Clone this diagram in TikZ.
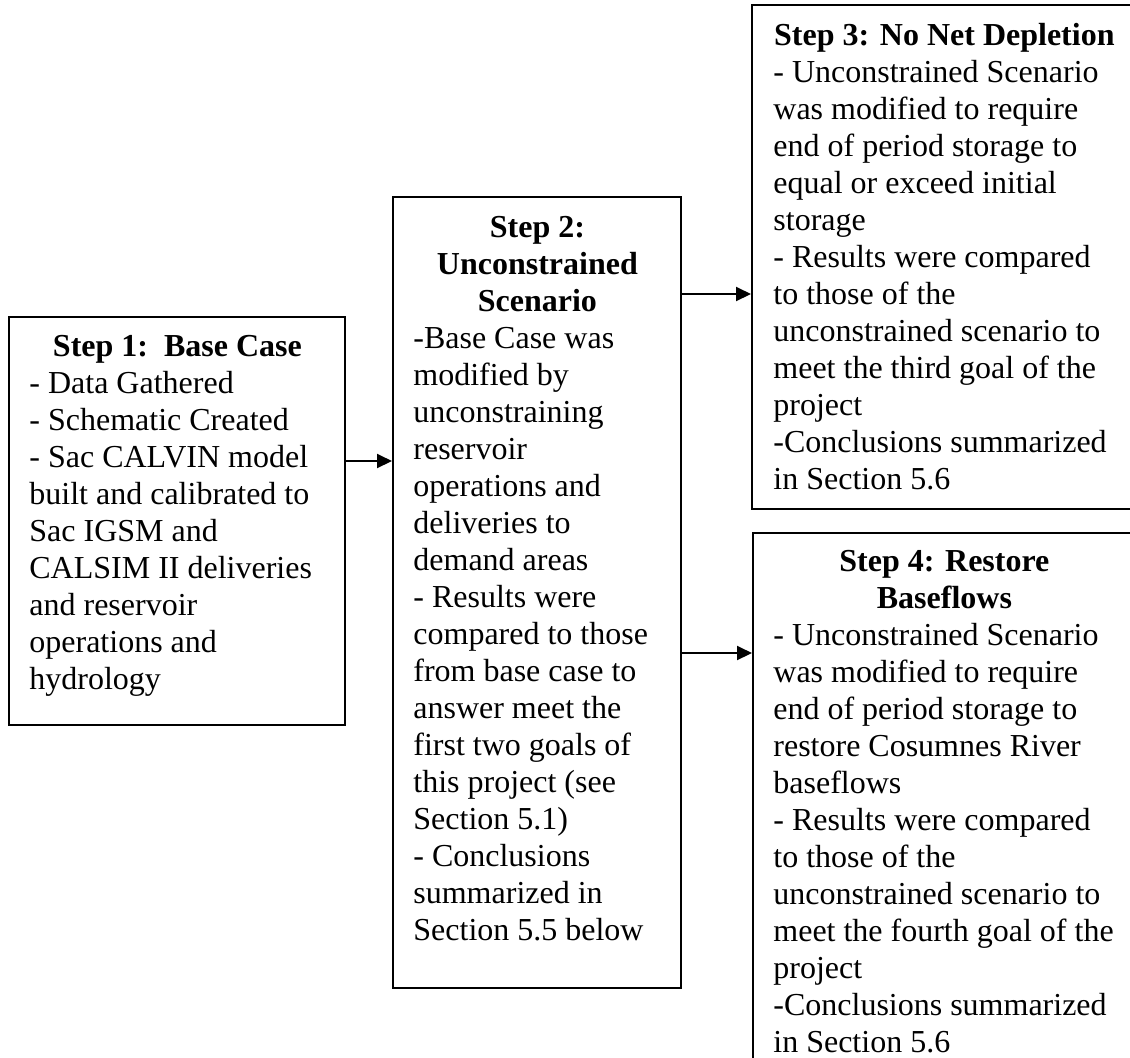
\documentclass[tikz,border=0pt]{standalone}
\usepackage{fontspec}
\setmainfont{Liberation Serif}
\usetikzlibrary{arrows.meta,fit}
\newcommand{\steptitle}[2]{\makebox[#1]{\bfseries #2}}
\begin{document}
        \begin{tikzpicture}[x=0.5pt, y=-0.5pt,
            box/.style={draw, line width=1pt, inner sep=0pt},
            txt/.style={anchor=north west, inner sep=0pt, align=left,
                font=\fontsize{16}{18.5}\selectfont},
            arr/.style={line width=1pt, -{Triangle[length=7.5pt,width=7pt]}}]
            \useasboundingbox (0,0) rectangle (1130,1057);
            \clip (0,0) rectangle (1130,1057);
            % Kaesten
            \node [box, fit={(9,317) (345,725)}]    (s1) {};
            \node [box, fit={(393,197) (681,988)}]  (s2) {};
            \node [box, fit={(752,5) (1150,509)}]   (s3) {};
            \node [box, fit={(753,533) (1150,1090)}] (s4) {};
            % Texte
            \node [txt] (t1) at (29,335) {\steptitle{148pt}{Step 1:\ \ Base Case}\\
                - Data Gathered\\
                - Schematic Created\\
                - Sac CALVIN model\\
                built and calibrated to\\
                Sac IGSM and\\
                CALSIM II deliveries\\
                and reservoir\\
                operations and\\
                hydrology};
            \node [txt] (t2) at (413,216) {\steptitle{124pt}{Step 2:}\\
                \steptitle{124pt}{Unconstrained}\\
                \steptitle{124pt}{Scenario}\\
                -Base Case was\\
                modified by\\
                unconstraining\\
                reservoir\\
                operations and\\
                deliveries to\\
                demand areas\\
                - Results were\\
                compared to those\\
                from base case to\\
                answer meet the\\
                first two goals of\\
                this project (see\\
                Section 5.1)\\
                - Conclusions\\
                summarized in\\
                Section 5.5 below};
            \node [txt] (t3) at (773,23) {\steptitle{171pt}{Step 3: No Net Depletion}\\
                - Unconstrained Scenario\\
                was modified to require\\
                end of period storage to\\
                equal or exceed initial\\
                storage\\
                - Results were compared\\
                to those of the\\
                unconstrained scenario to\\
                meet the third goal of the\\
                project\\
                -Conclusions summarized\\
                in Section 5.6};
            \node [txt] (t4) at (773,550) {\steptitle{171pt}{Step 4: Restore}\\
                \steptitle{171pt}{Baseflows}\\
                - Unconstrained Scenario\\
                was modified to require\\
                end of period storage to\\
                restore Cosumnes River\\
                baseflows\\
                - Results were compared\\
                to those of the\\
                unconstrained scenario to\\
                meet the fourth goal of the\\
                project\\
                -Conclusions summarized\\
                in Section 5.6};
            % Pfeile
            \coordinate (a1) at (0,461);
            \coordinate (a2) at (0,294);
            \coordinate (a3) at (0,653);
            \draw [arr] (s1.east |- a1) -- (s2.west |- a1);
            \draw [arr] (s2.east |- a2) -- (s3.west |- a2);
            \draw [arr] (s2.east |- a3) -- (s4.west |- a3);
        \end{tikzpicture}
\end{document}
